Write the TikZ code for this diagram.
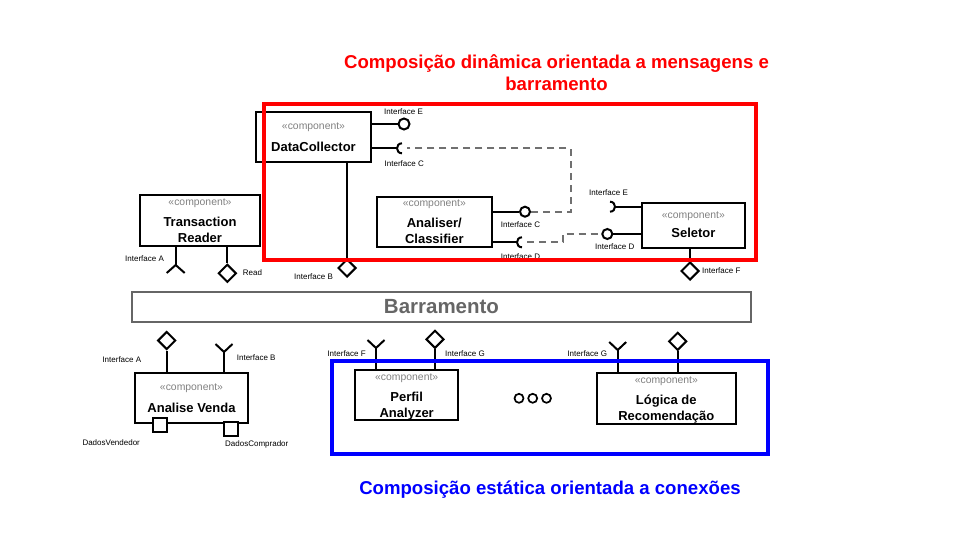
\documentclass[tikz,border=0pt]{standalone}
\usepackage{fontspec}
\setmainfont{Liberation Sans}
\usetikzlibrary{shapes.geometric}
\definecolor{busgray}{HTML}{666666}
\definecolor{stgray}{HTML}{808080}
\definecolor{dashgray}{HTML}{707070}
\begin{document}
\begin{tikzpicture}[x=1pt,y=-1pt,
  comp/.style={draw, line width=2pt, inner sep=0pt},
  stereo/.style={text=stgray, font=\fontsize{10.4}{12}\selectfont, inner sep=0pt},
  cname/.style={font=\bfseries\fontsize{13}{16}\selectfont, align=center, inner sep=0pt},
  lbl/.style={font=\fontsize{8}{9}\selectfont, inner sep=0pt, anchor=west},
  lolli/.style={circle, draw, line width=2pt, minimum size=10pt, inner sep=0pt, fill=white},
  iface/.style={diamond, draw, line width=2pt, minimum size=18pt, inner sep=0pt, fill=white},
  port/.style={rectangle, draw, line width=1.8pt, minimum size=13.5pt, inner sep=0pt, fill=white},
  wire/.style={line width=2pt},
  dashwire/.style={line width=1.8pt, draw=dashgray, dash pattern=on 7pt off 5pt},
  ttl/.style={font=\bfseries\fontsize{18.6}{21.6}\selectfont, align=center, inner sep=0pt},
  dot/.style={circle, draw, line width=1.7pt, minimum size=9pt, inner sep=0pt}
]
\useasboundingbox (0,0) rectangle (960,540);

% titles
\node[ttl, text=red] (t1) at (556.5,72.5) {Composição dinâmica orientada a mensagens e\\barramento};
\node[ttl, text=blue] (t3) at (550,489.3) {Composição estática orientada a conexões};

% bus
\node[draw=busgray, line width=1.8pt, minimum width=619pt, minimum height=30pt, inner sep=0pt,
      text=busgray, font=\bfseries\fontsize{20.5}{24}\selectfont] (bus) at (441.5,307) {Barramento};

% components
\node[comp, minimum width=115pt, minimum height=50pt] (dc) at (313.5,137) {};
\node[stereo] (dcs) at (313.5,127.7) {«component»};
\node[cname] (dcn) at (313.5,146.7) {DataCollector};

\node[comp, minimum width=114.7pt, minimum height=50pt] (an) at (434.3,221.7) {};
\node[stereo] (ans) at (434.3,204.3) {«component»};
\node[cname] (ann) at (434.3,231) {Analiser/\\Classifier};

\node[comp, minimum width=103.3pt, minimum height=45pt] (se) at (693.4,225.2) {};
\node[stereo] (ses) at (693.4,216.7) {«component»};
\node[cname] (sen) at (693.4,232.7) {Seletor};

\node[comp, minimum width=120pt, minimum height=51pt] (tr) at (200,220.5) {};
\node[stereo] (trs) at (200,203.3) {«component»};
\node[cname] (trn) at (200,229.8) {Transaction\\Reader};

\node[comp, minimum width=113pt, minimum height=50pt] (av) at (191.5,398) {};
\node[stereo] (avs) at (191.5,388.3) {«component»};
\node[cname] (avn) at (191.5,407.7) {Analise Venda};

\node[comp, minimum width=103.3pt, minimum height=50pt] (pa) at (406.7,395) {};
\node[stereo] (pas) at (406.7,378.3) {«component»};
\node[cname] (pan) at (406.7,406) {Perfil\\Analyzer};

\node[comp, minimum width=139.3pt, minimum height=51pt] (lr) at (666.3,398.8) {};
\node[stereo] (lrs) at (666.3,381.7) {«component»};
\node[cname] (lrn) at (666.3,408.8) {Lógica de\\Recomendação};

% DataCollector interfaces
\node[lolli, minimum size=11pt] (dcE) at (404,124) {};
\draw[wire] (dc.east |- dcE) -- (dcE.west);
\node[lbl] (dcEl) at (384,112) {Interface E};
\coordinate (dcCt) at (397,148.3);
\coordinate (dcCd) at (407,148.3);
\draw[wire] (dc.east |- dcCt) -- (dcCt);
\draw[wire] (402,143.3) .. controls (395.33,143.3) and (395.33,153.3) .. (402,153.3);
\node[lbl] (dcCl) at (384.5,164) {Interface C};
\node[iface] (dcB) at (347,268) {};
\draw[wire] (dc.south -| dcB) -- (dcB.north);
\node[lbl] (dcBl) at (294,277) {Interface B};

% Analiser interfaces
\node[lolli] (anC) at (525,211.7) {};
\draw[wire] (an.east |- anC) -- (anC.west);
\node[lbl] (anCl) at (500.7,225) {Interface C};
\coordinate (anDt) at (517,242.3);
\coordinate (anDd) at (527,242.3);
\draw[wire] (an.east |- anDt) -- (anDt);
\draw[wire] (522,237.3) .. controls (515.33,237.3) and (515.33,247.3) .. (522,247.3);
\node[lbl] (anDl) at (500.7,257) {Interface D};

% Seletor interfaces
\coordinate (seEt) at (615,206.7);
\draw[wire] (se.west |- seEt) -- (seEt);
\draw[wire] (610,201.7) .. controls (616.67,201.7) and (616.67,211.7) .. (610,211.7);
\node[lbl] (seEl) at (589,192.3) {Interface E};
\node[lolli] (seD) at (607.3,234) {};
\draw[wire] (se.west |- seD) -- (seD.east);
\node[lbl] (seDl) at (595,246.7) {Interface D};
\node[iface] (seF) at (690,271) {};
\draw[wire] (se.south -| seF) -- (seF.north);
\node[lbl] (seFl) at (702,271) {Interface F};

% dashed message links
\draw[dashwire] (anC.east) -- ++(40,0) |- (dcCd);
\draw[dashwire] (anDd) -- ++(36,0) |- (seD.west);

% Transaction Reader interfaces
\coordinate (trA) at (175.7,265);
\draw[wire] (tr.south -| trA) -- (trA);
\draw[wire] (trA) -- ++(-9,8);
\draw[wire] (trA) -- ++(9,8);
\node[lbl] (trAl) at (125,259) {Interface A};
\node[iface] (trR) at (227.3,273.3) {};
\draw[wire] (tr.south -| trR) -- (trR.north);
\node[lbl] (trRl) at (242.7,272.3) {Read};

% Analise Venda interfaces
\node[iface] (avA) at (166.7,340.5) {};
\draw[wire] (avA.south) -- (av.north -| avA);
\node[lbl] (avAl) at (102.3,359.3) {Interface A};
\coordinate (avB) at (224,352);
\draw[wire] (avB) -- (av.north -| avB);
\draw[wire] (avB) -- ++(-8.5,-8);
\draw[wire] (avB) -- ++(8.5,-8);
\node[lbl] (avBl) at (236.7,358) {Interface B};
\node[port] (avP1) at (160,425) {};
\node[port] (avP2) at (231,429) {};
\node[lbl] (avP1l) at (82.3,442.3) {DadosVendedor};
\node[lbl] (avP2l) at (225,444.5) {DadosComprador};

% Perfil Analyzer interfaces
\coordinate (paF) at (376,348);
\draw[wire] (paF) -- (pa.north -| paF);
\draw[wire] (paF) -- ++(-8.5,-8);
\draw[wire] (paF) -- ++(8.5,-8);
\node[lbl] (paFl) at (327.3,353.3) {Interface F};
\node[iface] (paG) at (435,339.3) {};
\draw[wire] (paG.south) -- (pa.north -| paG);
\node[lbl] (paGl) at (445,353.3) {Interface G};

% Logica interfaces
\coordinate (lrG) at (617.7,350);
\draw[wire] (lrG) -- (lr.north -| lrG);
\draw[wire] (lrG) -- ++(-8.5,-8);
\draw[wire] (lrG) -- ++(8.5,-8);
\node[lbl] (lrGl) at (567.3,353.3) {Interface G};
\node[iface] (lrD) at (677.7,341.3) {};
\draw[wire] (lrD.south) -- (lr.north -| lrD);

% dots
\node[dot] (o1) at (519,398.3) {};
\node[dot] (o2) at (532.7,398.3) {};
\node[dot] (o3) at (546.5,398.3) {};

% frames
\node[draw=red, line width=3.8pt, minimum width=492pt, minimum height=156pt, inner sep=0pt] (dyn) at (510,182) {};
\node[draw=blue, line width=3.8pt, minimum width=436.6pt, minimum height=93.3pt, inner sep=0pt] (sta) at (550,407.7) {};
\end{tikzpicture}
\end{document}
